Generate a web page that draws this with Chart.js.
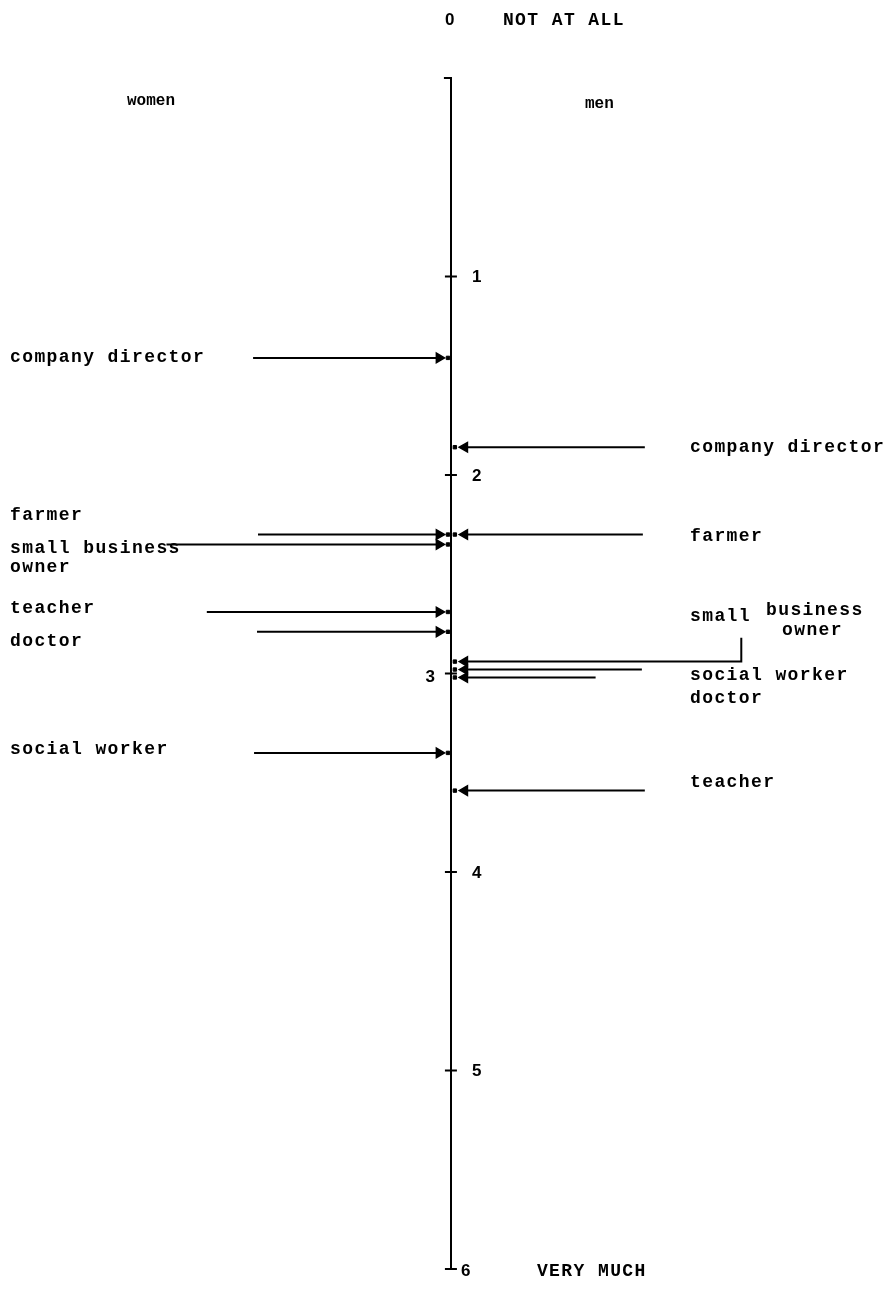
<!DOCTYPE html>
<html lang="en">
<head>
  <meta charset="UTF-8">
  <title>Occupations - women and men</title>
  <style>
    html, body {
      margin: 0;
      padding: 0;
      background: #fff;
    }
    #wrap {
      width: 892px;
      height: 1290px;
      position: relative;
    }
  </style>
</head>
<body>
  <div id="wrap">
    <canvas id="scaleChart" width="892" height="1290"></canvas>
  </div>

  <script src="https://cdn.jsdelivr.net/npm/chart.js"></script>
  <script>
    // data
    const jobs = ['company director', 'farmer', 'small business owner', 'teacher', 'doctor', 'social worker'];
    const womenScores = [1.41, 2.30, 2.35, 2.69, 2.79, 3.40];
    const menScores = [1.86, 2.30, 2.94, 3.59, 3.02, 2.98];
    const tickValues = [1, 2, 3, 4, 5];
    const topLabel = ['0', 'NOT AT ALL'];
    const bottomLabel = ['6', 'VERY MUCH'];
    const groupNames = ['women', 'men'];

    // layout (x in px from the axis, label shifts in px)
    const womenTail = [-201, -196, -289, -248, -197, -200];
    const menTail = [197, 195, 295, 197, 147, 194];
    const womenLabelShift = [0, -19, 4, -3, 10, -3];
    const menLabelShift = [0, 2, -45, -8, 21, 6];

    const FONT = 'bold 18px "Liberation Mono", "DejaVu Sans Mono", monospace';
    const NUM_FONT = 'bold 17px "Liberation Sans", Arial, sans-serif';
    const INK = '#000';

    function arrowSet(score, tail, side) {
      const head = side < 0 ? -12 : 14;
      let pts = [{x: tail, y: score}, {x: head, y: score}];
      if (side > 0 && tail > 250) {
        // leader line that bends up to the label
        pts = [{x: tail, y: score - 0.12}, {x: tail, y: score}, {x: head, y: score}];
      }
      const radius = pts.map((p, i) => i === pts.length - 1 ? 5.5 : 0);
      return {
        data: pts,
        borderColor: INK,
        backgroundColor: INK,
        borderWidth: 2,
        pointStyle: 'triangle',
        rotation: side < 0 ? 90 : -90,
        pointRadius: radius,
        pointBorderWidth: 1.5,
        tension: 0
      };
    }

    const datasets = [];
    jobs.forEach((j, i) => datasets.push(arrowSet(womenScores[i], womenTail[i], -1)));
    jobs.forEach((j, i) => datasets.push(arrowSet(menScores[i], menTail[i], 1)));
    datasets.push({
      data: womenScores.map(v => ({x: -3, y: v})),
      showLine: false, pointStyle: 'rect', pointRadius: 2.4,
      borderColor: INK, backgroundColor: INK
    });
    datasets.push({
      data: menScores.map(v => ({x: 4, y: v})),
      showLine: false, pointStyle: 'rect', pointRadius: 2.4,
      borderColor: INK, backgroundColor: INK
    });

    const textPlugin = {
      id: 'textPlugin',
      afterDraw(chart) {
        const ctx = chart.ctx;
        const xs = chart.scales.x;
        const ys = chart.scales.y;
        const ax = xs.getPixelForValue(0);
        const top = ys.getPixelForValue(0);
        const bottom = ys.getPixelForValue(6);
        ctx.save();
        ctx.strokeStyle = INK;
        ctx.lineWidth = 2;
        // hook at top, bar at bottom, tick marks
        ctx.beginPath();
        ctx.moveTo(ax - 7, top);
        ctx.lineTo(ax, top);
        ctx.moveTo(ax - 6, bottom);
        ctx.lineTo(ax + 6, bottom);
        tickValues.forEach(v => {
          const y = ys.getPixelForValue(v);
          ctx.moveTo(ax - 6, y);
          ctx.lineTo(ax + 6, y);
        });
        ctx.stroke();

        ctx.fillStyle = INK;
        ctx.textBaseline = 'middle';
        ctx.textAlign = 'left';

        // axis numbers
        ctx.font = NUM_FONT;
        tickValues.forEach(v => {
          const y = ys.getPixelForValue(v);
          if (v === 3) {
            ctx.textAlign = 'right';
            ctx.fillText(String(v), ax - 16, y + 4);
            ctx.textAlign = 'left';
          } else {
            ctx.fillText(String(v), ax + 21, y + 1);
          }
        });
        ctx.fillText(topLabel[0], ax - 6, top - 58);
        ctx.fillText(bottomLabel[0], ax + 10, bottom + 2);

        ctx.font = FONT;
        ctx.letterSpacing = '1.4px';
        ctx.fillText(topLabel[1], ax + 52, top - 58);
        ctx.fillText(bottomLabel[1], ax + 86, bottom + 2);

        // group headers
        ctx.letterSpacing = '0px';
        ctx.font = 'bold 16px "Liberation Mono", "DejaVu Sans Mono", monospace';
        ctx.fillText(groupNames[0], 127, top + 23);
        ctx.fillText(groupNames[1], 585, top + 26);

        ctx.font = FONT;
        ctx.letterSpacing = '1.4px';
        // women labels
        jobs.forEach((j, i) => {
          const y = ys.getPixelForValue(womenScores[i]) + womenLabelShift[i];
          if (j === 'small business owner') {
            ctx.fillText('small business', 10, y);
            ctx.fillText('owner', 10, y + 19);
          } else {
            ctx.fillText(j, 10, y);
          }
        });

        // men labels
        jobs.forEach((j, i) => {
          const y = ys.getPixelForValue(menScores[i]) + menLabelShift[i];
          if (j === 'small business owner') {
            ctx.fillText('small', 690, y);
            ctx.fillText('business', 766, y - 6);
            ctx.fillText('owner', 782, y + 14);
          } else {
            ctx.fillText(j, 690, y);
          }
        });
        ctx.restore();
      }
    };

    new Chart(document.getElementById('scaleChart'), {
      type: 'line',
      data: { datasets: datasets },
      options: {
        responsive: false,
        animation: false,
        devicePixelRatio: 1,
        layout: { padding: { top: 78, bottom: 21, left: 0, right: 0 } },
        scales: {
          x: {
            type: 'linear',
            min: -451,
            max: 441,
            display: false
          },
          y: {
            type: 'linear',
            min: 0,
            max: 6,
            reverse: true,
            position: { x: 0 },
            border: { display: true, color: INK, width: 2 },
            grid: { drawOnChartArea: false, drawTicks: false },
            ticks: { display: false }
          }
        },
        plugins: {
          legend: { display: false },
          tooltip: { enabled: false }
        }
      },
      plugins: [textPlugin]
    });
  </script>
</body>
</html>
